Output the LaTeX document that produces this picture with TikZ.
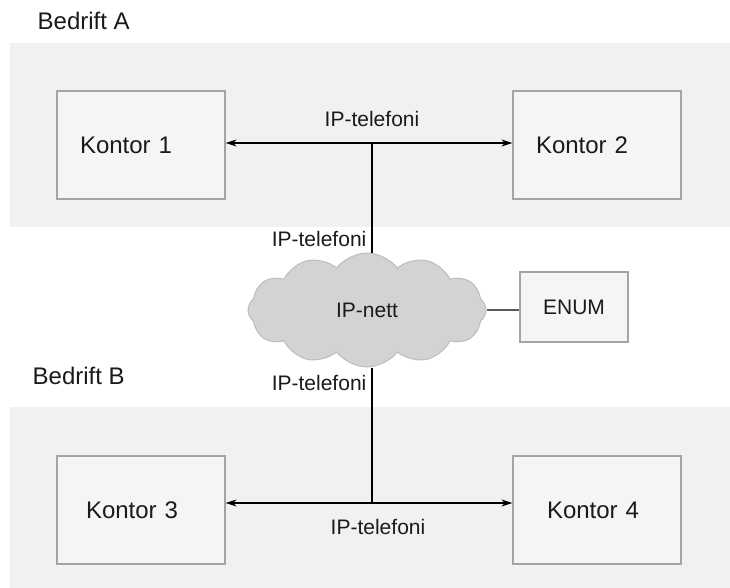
\documentclass[tikz,border=0pt]{standalone}
\usepackage{fontspec}
\setmainfont{Liberation Sans}
\usepackage{tikz}
\usetikzlibrary{arrows.meta,shapes.symbols,positioning}
\definecolor{panelgray}{HTML}{F1F1F1}
\definecolor{boxfill}{HTML}{F5F5F5}
\definecolor{boxedge}{HTML}{A4A4A4}
\definecolor{cloudfill}{HTML}{D3D3D3}
\definecolor{cloudedge}{HTML}{BDBDBD}
\definecolor{inkgray}{HTML}{1A1A1A}

\begin{document}
\begin{tikzpicture}[x=1pt,y=-1pt,>={Stealth[length=11pt,width=7pt]},
  line width=1.3pt,text=inkgray,
  kontor node/.style={draw=boxedge,fill=boxfill,minimum height=108pt,text width=168pt,
    inner xsep=0pt,align=left,font=\fontsize{24}{28}\selectfont},
  tag node/.style={font=\fontsize{21}{25}\selectfont,inner sep=0pt},
  firm node/.style={font=\fontsize{24}{28}\selectfont,inner sep=0pt,anchor=west}]

  \useasboundingbox (0,0) rectangle (730,588);
  \fill[panelgray] (10,43) rectangle (730,227);
  \fill[panelgray] (10,407) rectangle (730,588);

  \node[firm node] (A) at (37,21) {Bedrift A};
  \node[firm node] (B) at (32,376) {Bedrift B};

  \node[kontor node] (1) at (141,145) {\hspace*{23pt}Kontor 1};
  \node[kontor node] (2) at (597,145) {\hspace*{23pt}Kontor 2};
  \node[kontor node] (3) at (141,510) {\hspace*{29pt}Kontor 3};
  \node[kontor node] (4) at (597,510) {\hspace*{34pt}Kontor 4};

  \node[cloud,cloud puffs=12,cloud puff arc=105,aspect=2.1,minimum width=238pt,
    minimum height=114pt,inner sep=0pt,fill=cloudfill,draw=cloudedge,line width=1pt,
    font=\fontsize{21}{25}\selectfont] (nett) at (367,310) {IP-nett};
  \node[draw=boxedge,fill=boxfill,minimum width=108pt,minimum height=70pt,
    font=\fontsize{21}{25}\selectfont] (enum) at (574,307) {ENUM};

  \coordinate (jA) at (372,143);
  \coordinate (jB) at (372,503);

  \draw[<->] (1.east |- jA) -- (2.west |- jA);
  \draw (jA) -- (jA |- nett.north);
  \draw[<->] (3.east |- jB) -- (4.west |- jB);
  \draw (jB |- nett.south) -- (jB);
  \draw[black!65,line width=1.2pt] (nett.east) -- (enum.west |- nett.east);

  \node[tag node] (tA) at (372,119) {IP-telefoni};
  \node[tag node,anchor=east] (tC) at (367,239) {IP-telefoni};
  \node[tag node,anchor=east] (tD) at (367,383) {IP-telefoni};
  \node[tag node] (tB) at (378,527) {IP-telefoni};
\end{tikzpicture}
\end{document}
